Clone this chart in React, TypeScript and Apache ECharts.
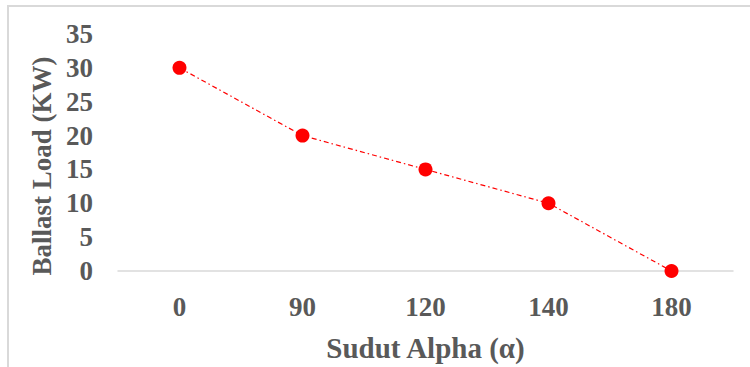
import React, { useEffect, useRef } from "react";
import * as echarts from "echarts";

const categories = ["0", "90", "120", "140", "180"];
const ballastLoad = [30, 20, 15, 10, 0];
const xTitle = "Sudut Alpha (α)";
const yTitle = "Ballast Load (KW)";

const FONT = "'Liberation Serif', 'Times New Roman', serif";
const TXT = "#595959";

export default function App() {
  const ref = useRef<HTMLDivElement>(null);
  useEffect(() => {
    if (!ref.current) return;
    const chart = echarts.init(ref.current, undefined, { renderer: "svg" });
    chart.setOption({
      animation: false,
      backgroundColor: "#ffffff",
      grid: { left: 118, right: 17, top: 34, bottom: 96 },
      graphic: [
        {
          type: "polyline",
          shape: { points: [[8, 370], [8, 6], [760, 6]] },
          style: { stroke: "#d9d9d9", lineWidth: 2, fill: "none" },
          silent: true,
        },
        {
          type: "text",
          x: 42,
          y: 166,
          rotation: Math.PI / 2,
          style: {
            text: yTitle,
            font: `bold 27px ${FONT}`,
            fill: TXT,
            align: "center",
            verticalAlign: "middle",
          },
        },
      ],
      xAxis: {
        type: "category",
        data: categories,
        boundaryGap: true,
        name: xTitle,
        nameLocation: "middle",
        nameGap: 62,
        nameTextStyle: { fontFamily: FONT, fontWeight: "bold", fontSize: 29, color: TXT },
        axisLine: { lineStyle: { color: "#d9d9d9", width: 1.5 } },
        axisTick: { show: false },
        axisLabel: { fontFamily: FONT, fontWeight: "bold", fontSize: 27, color: TXT, margin: 22 },
      },
      yAxis: {
        type: "value",
        min: 0,
        max: 35,
        interval: 5,
        axisLine: { show: false },
        axisTick: { show: false },
        splitLine: { show: false },
        axisLabel: { fontFamily: FONT, fontWeight: "bold", fontSize: 27, color: TXT, margin: 25 },
      },
      series: [
        {
          type: "line",
          data: ballastLoad,
          symbol: "circle",
          symbolSize: 14,
          itemStyle: { color: "#ff0000" },
          lineStyle: { color: "#ff0000", width: 1.2, type: [5, 3, 1.5, 3] },
        },
      ],
    });
    return () => chart.dispose();
  }, []);
  return (
    <div
      ref={ref}
      style={{ position: "absolute", left: 0, top: 0, width: 750, height: 367 }}
    />
  );
}
